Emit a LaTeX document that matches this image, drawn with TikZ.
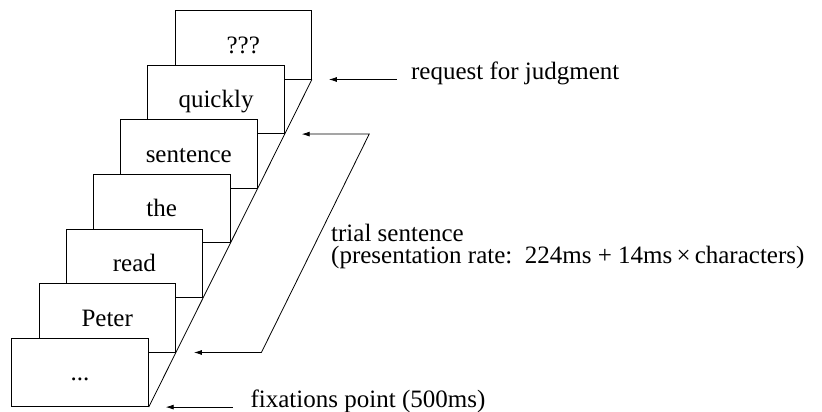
\documentclass[tikz,border=0pt]{standalone}
\usepackage{fontspec}
\setmainfont{Liberation Serif}
\usetikzlibrary{calc,arrows.meta}
\begin{document}
\begin{tikzpicture}[x=1pt,y=1pt,
  every node/.style={font=\fontsize{25}{19.5}\selectfont},
  slide/.style={draw, fill=white, line width=0.8pt, rectangle,
    minimum width=136.6pt, minimum height=68.5pt, inner sep=0pt,
    text height=16.5pt, text depth=0pt},
  conn/.style={line width=0.8pt},
  pointer/.style={conn, -{Latex[length=8pt,width=5pt]}},
  label/.style={anchor=base west, inner sep=0pt}]
\useasboundingbox (0,0) rectangle (822,412);
% slides, drawn from the top one down so that lower slides cover upper ones
\node[slide] (b6) at ({80+27.2*6},{39.55+54.6*6}) {???};
\node[slide] (b5) at ({80+27.2*5},{39.55+54.6*5}) {quickly};
\node[slide] (b4) at ({80+27.2*4},{39.55+54.6*4}) {sentence};
\node[slide] (b3) at ({80+27.2*3},{39.55+54.6*3}) {the};
\node[slide] (b2) at ({80+27.2*2},{39.55+54.6*2}) {read};
\node[slide] (b1) at ({80+27.2*1},{39.55+54.6*1}) {Peter};
\node[slide] (b0) at (80,39.55) {...};
\draw[conn] (b6.south east) -- (b0.south east);
% request for judgment
\coordinate (r0) at ($(b6.south east)+(85,0)$);
\coordinate (r1) at ($(b6.south east)+(17,0)$);
\draw[pointer] (r0) -- (r1);
\node[label] (lr) at ($(b6.south east)+(99,0)$) {request for judgment};
% trial sentence
\coordinate (s1) at ($(b5.south east)+(17,0)$);
\coordinate (s2) at ($(b5.south east)+(84.5,0)$);
\coordinate (s3) at ($(b1.south east)+(85.5,0)$);
\coordinate (s4) at ($(b1.south east)+(18,0)$);
\draw[conn, {Latex[length=8pt,width=5pt]}-{Latex[length=8pt,width=5pt]}] (s1) -- (s2) -- (s3) -- (s4);
\node[label] (ls1) at (331,170.5) {trial sentence};
\node[label] (ls2) at (331,148.5) {(presentation rate:\, 224ms + 14ms\,×\,characters)};
% fixation point
\coordinate (f0) at ($(b0.south east)+(84,0)$);
\coordinate (f1) at ($(b0.south east)+(17,0)$);
\draw[pointer] (f0) -- (f1);
\node[label] (lf) at ($(b0.south east)+(101.7,0)$) {fixations point (500ms)};
\end{tikzpicture}
\end{document}
